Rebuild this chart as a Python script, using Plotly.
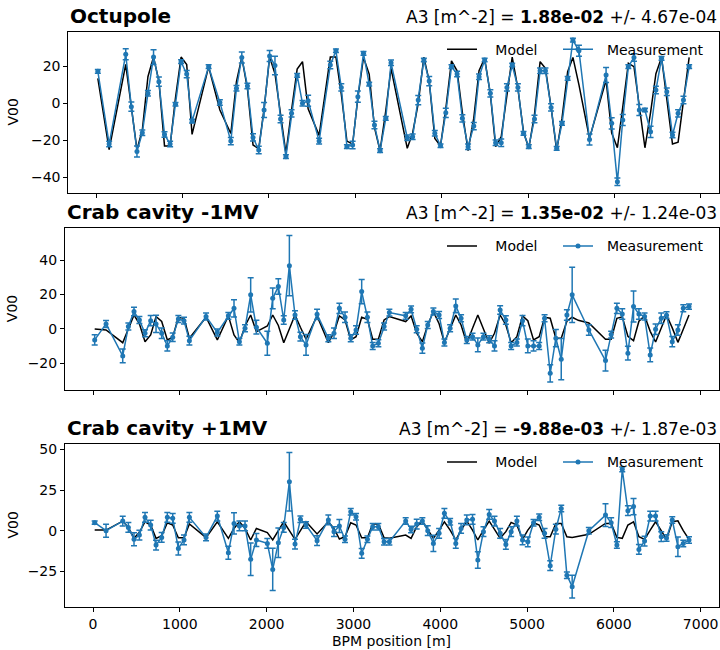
import plotly.graph_objects as go

bpm_s = [19, 150, 342, 407, 472, 534, 599, 664, 726, 791,
         856, 918, 983, 1048, 1110, 1302, 1432, 1559, 1624, 1686,
         1751, 1816, 1882, 1944, 2008, 2070, 2135, 2197, 2262, 2327,
         2389, 2454, 2581, 2711, 2776, 2838, 2903, 2969, 3030, 3095,
         3161, 3222, 3287, 3353, 3414, 3602, 3664, 3729, 3794, 3856,
         3921, 3987, 4048, 4114, 4179, 4240, 4306, 4372, 4433, 4498,
         4564, 4625, 4690, 4756, 4817, 4883, 4948, 5009, 5075, 5140,
         5202, 5267, 5332, 5394, 5459, 5520, 5590, 5712, 5904, 5969,
         6035, 6097, 6162, 6227, 6289, 6354, 6419, 6481, 6546, 6607,
         6673, 6738, 6800, 6866]

oct_meas = [17.3, -22, 26.5, -1.8, -26, -15.9, 5.4, 25, 11.7, -16.8,
            -22, -0.5, 22.5, 15.8, -9.6, 19.8, 0.5, -20.4, 8.1, 24.8,
            9.4, -18.4, -25.2, -3.6, 25.6, 20.5, -8.5, -28.8, -5.4, 15.1,
            0, 1.4, -20.4, 20.7, 28.4, 8.6, -23.4, -22.5, 3.6, 27,
            10.4, -11.7, -25.6, -8.1, 21.9, -18.6, -18, 1.8, 23.4, 12,
            -16.2, -22.9, -5.1, 19.8, 15.8, -8.1, -23.4, -12.3, 14.4, 23.4,
            5.4, -21.3, -21.3, 8.6, 20.7, 8.6, -16.2, -23.4, -8.5, 17.6,
            17.6, -2.2, -24.3, -10.8, 13.5, 34.2, 28.4, -19.5, 15.3, -10.8,
            -42.4, -9, 19.8, 24.8, -3.6, -3.6, -15.4, 7.2, 24.3, 6.3,
            -17.1, -5.4, 1.8, 19.8]
oct_model = [13.5, -25, 21, -2, -25, -14.4, 14.4, 25, 12, -23,
             -23, 3, 25, 21, -16.8, 19.8, -3.6, -16.3, 11.7, 24.8,
             8, -22.5, -24.5, -3, 25, 16, -6, -27, -3.6, 18.5,
             22.5, -3, -17.3, 25, 25, 5, -20.4, -22, 3, 24.8,
             15.8, -13, -25.6, -4, 18.9, -24.3, -16, 0, 25, 12,
             -19, -22.9, -3, 23, 17.6, -5, -25.6, -8, 17.6, 24.3,
             5, -23.4, -18, 5, 25, 8, -15.4, -24.3, -6, 22.5,
             18.9, -2, -25.6, -8, 17.1, 24.8, 10, -18.9, 12.6, -16,
             -24, -2, 21.6, 19.8, -3, -24, -5, 16, 24.8, 1.6,
             -22, -21, 2, 24.8]
oct_err = [1, 1.5, 3, 2.5, 3, 1.5, 1.5, 4, 2.5, 1.5,
           1.5, 1, 1, 2, 1, 1, 1.5, 2, 1.5, 3,
           1.5, 2, 2, 4, 3, 5, 2, 1, 2, 1,
           1.5, 3, 1.5, 2, 1, 2, 1, 2, 3, 1,
           1, 2, 1, 1, 1.5, 1.5, 1.5, 2.5, 1, 2.5,
           1.5, 1, 2.5, 1, 1.5, 2, 1.5, 2, 1.5, 1,
           2, 1.5, 2, 2, 1, 2, 1, 1, 2, 1.5,
           1.5, 2, 1, 1, 1, 1, 3, 3, 4, 3,
           2, 3, 1, 2, 3, 1, 3, 2, 1, 2,
           1.5, 2, 2, 1]

crm_meas = [-6.4, 2.9, -15.7, 1.4, 10.1, 5.2, -2.5, 4.8, 2.9, -2.5,
            -9.9, -4.8, 5.8, 4.8, -6.8, 7.2, -2.1, 7.6, 12, -7.4,
            0.4, 19.8, 1, None, -8.3, 17.8, 24.6, 5.2, 36.8, 8.1,
            -4.5, -9.3, 8.5, -5.4, -2.5, 12, 6.8, -5.4, -0.6, 21.7,
            6.8, -9.9, -8.3, 1.4, 9.5, 7.6, 11.4, -0.2, -11.2, 2.3,
            10.1, 8.1, -7.9, 0.4, 13.4, 6.2, -6.4, -4.5, -9.3, -4.5,
            -6, -9.9, 11, 5.2, -9.9, -7.9, 4.8, -9.9, -9.9, -9.9,
            6.2, -25.8, -5.4, -17.6, 8.1, 19.8, None, -0.6, -18.4, -3.3,
            12, 8.7, -14.1, 13, 8.7, 7.2, -15.1, -0.2, 6.2, 8,
            -7.4, -0.6, 12, 13]
crm_model = [0, -0.6, -8, 0, 8.1, 3, -7.4, -3.5, 7.2, 4.3,
             -6.4, -4.8, 6.8, 6.2, -5.4, 6.8, -6.4, 7.6, -3.5, -8,
             1.7, 8.1, -1.6, 0, 1.7, 8.1, 2, -8, 0.5, 8.1,
             1, -6, 7.6, -8, -2, 7.6, 5.2, -6.4, -4.5, 6.8,
             5.6, -6, -6, 5.2, 7.2, 4.3, 7.6, -2.5, -7.4, 2.3,
             10.1, 3, -7.9, 0.4, 8.1, 2.3, -8.3, 0.4, 8.1, 0,
             -8.3, -2.5, 8.1, 2.3, -8, -4.5, 7.6, 4.8, -6.4, -4.5,
             6.8, 6.2, -5.4, -5.4, 4.5, 6.8, 5, 3.5, -6, -6,
             6.2, 7, -4.3, -6.8, 4.5, 7.6, -1.4, -7.6, 0.6, 8.1,
             0.6, -7.8, -0.2, 8.1]
crm_err = [3, 2, 4, 2, 2.5, 2, 2, 3, 5, 3,
           3, 2.5, 2, 2, 2.5, 2, 2, 2, 5, 2,
           2, 10, 4, None, 7, 6, 4.5, 2.5, 17.5, 2.5,
           2.5, 6, 3, 2, 3, 3, 3, 2, 2.5, 7,
           3, 2, 2, 2, 2, 2, 2, 2, 3, 2,
           2, 2, 2, 2, 4, 2, 2, 2, 4, 2,
           2, 3, 2.5, 2.5, 2, 2, 3, 4, 3, 2,
           2, 5, 5, 12, 3, 16, None, 3, 6, 2,
           3, 3, 4, 9, 3, 2, 4, 3, 3, 2,
           3, 3, 2, 1.5]

crp_meas = [4.9, 0, 5.9, 2, -5.3, -2.7, 8.2, 3.5, -8.8, -4.1,
            8.2, 7.6, -10.9, -5.7, 8.2, -4.1, 9, -13.5, 4.5, 2.9,
            2.9, -17.6, -5.7, None, -7.8, -23.8, -7.4, 2, 30.1, -8.2,
            7, 3.5, -6.1, 6.6, -0.6, 2.9, -5.3, 11.7, 8.6, -13.9,
            -5.3, 2.5, 2.5, -6.8, -6.8, 5.9, 0.8, 4.1, 5.9, 0,
            -7.8, -1.6, 10.7, 5.5, -7.8, 1.4, 6.6, 7, -18, -0.6,
            10, 5.9, -1.6, -8.4, -0.6, 5.9, -5.7, -6.8, 4.9, 8.2,
            -1.6, -21.5, 0.9, 13.7, -27.3, -34.4, None, 0, 9.6, 4.9,
            -8.8, 37.7, 12.3, 14.8, -11.5, -6.4, 9, 9, -3.7, -4.5,
            6.6, -9.8, -7.8, -5.7]
crp_model = [0.4, 0.4, 5.9, 2, -4.7, -1, 5.5, 3.5, -4.7, -3,
             4.9, 3.5, -4.3, -4.3, 4.1, -4.3, 5.5, -4.7, 1.4, 5.5,
             1.4, -5.7, 1.4, 0, -1.2, -5.7, 0, 5.5, 0, -5.3,
             0, 5.5, -2, 5.5, 1.4, -5.1, -3.7, 4.9, 3.5, -4.3,
             -4.3, 4.1, 4.1, -4.3, -4.7, -2.7, -4.7, 2.5, 5.9, 0.4,
             -4.7, 0.4, 5.5, 0.4, -5.7, 0.4, 5.9, 0.4, -5.7, 0.4,
             5.9, 0.8, -4.7, -0.6, 5.1, 3.5, -5.3, 0.4, 4.9, 3.5,
             -3.7, -3.7, 4.5, 4.5, -3.7, -4.1, -3.5, -2.2, 4.5, 4.5,
             -4.1, -4.7, 3.5, 5.5, -3.7, -5.3, 0.4, 5.5, 0, -5.3,
             5.5, 6.1, 0, -5.3]
crp_err = [1, 4, 3, 3, 4, 3, 3, 3, 3, 3,
           3, 3, 4, 3, 3, 2, 3, 4, 6.5, 3,
           3, 10, 4, None, 3, 13, 9, 3, 18, 3,
           2, 2, 3, 3, 3, 4, 2, 2, 2, 3,
           2, 2, 2, 2, 2, 2, 2, 3, 2, 3,
           5, 3, 3, 2, 3, 3, 3, 3, 5, 3,
           3, 3, 3, 3, 3, 3, 3, 3, 2, 2,
           3, 3, 3, 2, 2, 7, None, 2, 7, 3,
           2, 1.5, 3, 5, 3, 3, 3, 3, 3, 2,
           2, 6, 2, 2]

panel_names = ["Octupole", "Crab cavity -1MV", "Crab cavity +1MV"]
a3_values = ["1.88e-02", "1.35e-02", "-9.88e-03"]
a3_errors = ["4.67e-04", "1.24e-03", "1.87e-03"]
y_ticks = [[-40, -20, 0, 20], [-20, 0, 20, 40], [-25, 0, 25, 50]]
y_ranges = [[-48.6, 38.7], [-35.5, 58.5], [-46.7, 53.1]]
x_ticks = [0, 1000, 2000, 3000, 4000, 5000, 6000, 7000]

panels = [(oct_meas, oct_err, oct_model), (crm_meas, crm_err, crm_model), (crp_meas, crp_err, crp_model)]
for m, e, mo in panels:
    assert len(m) == len(e) == len(mo) == len(bpm_s), (len(m), len(e), len(mo), len(bpm_s))

W, H = 720, 650
FONT = "DejaVu Sans"
FS = 14
BLUE = "#1f77b4"
NB = "\u00a0"
# pixel boxes (left, right, top, bottom)
boxes = [(68.3, 719.3, 31.7, 193.3), (65, 719.3, 228.3, 390), (65, 719.3, 444.3, 606.7)]

fig = go.Figure()
layout = dict(width=W, height=H, margin=dict(l=0, r=0, t=0, b=0, autoexpand=False),
              paper_bgcolor="white", plot_bgcolor="white",
              font=dict(family=FONT, size=FS, color="black"),
              showlegend=True)
annotations = []
for i, ((meas, err, model), box) in enumerate(zip(panels, boxes)):
    k = "" if i == 0 else str(i + 1)
    xa, ya = "x" + k, "y" + k
    leg = "legend" + k
    fig.add_trace(go.Scatter(x=bpm_s, y=model, mode="lines", name=NB * 3 + "Model",
                             line=dict(color="black", width=1.5), legendwidth=71,
                             xaxis=xa, yaxis=ya, legend=leg, connectgaps=True))
    fig.add_trace(go.Scatter(x=bpm_s, y=meas, mode="lines+markers", name=NB * 2 + "Measurement",
                             line=dict(color=BLUE, width=1.5), legendwidth=108,
                             marker=dict(color=BLUE, size=5),
                             error_y=dict(type="data", array=err, visible=True,
                                          color=BLUE, thickness=1.5, width=3),
                             xaxis=xa, yaxis=ya, legend=leg, connectgaps=True))
    l, r, t, b = box
    xd = [l / W, r / W]
    yd = [1 - b / H, 1 - t / H]
    axis_common = dict(showline=True, mirror=True, linecolor="black", linewidth=1,
                       ticks="outside", ticklen=4, tickcolor="black", tickwidth=1,
                       showgrid=False, zeroline=False,
                       tickfont=dict(family=FONT, size=FS, color="black"))
    layout["xaxis" + k] = dict(domain=xd, range=[-323, 7215], tickvals=x_ticks,
                               showticklabels=(i == 2), anchor=ya, **axis_common)
    layout["yaxis" + k] = dict(domain=yd, range=y_ranges[i], tickvals=y_ticks[i],
                               anchor=xa, **axis_common)
    layout[leg] = dict(orientation="h", x=442 / W, xanchor="left",
                       y=(1 - (t + 2) / H), yanchor="top",
                       bgcolor="rgba(0,0,0,0)", font=dict(family=FONT, size=FS),
                       itemwidth=30, tracegroupgap=0)
    annotations.append(dict(xref="paper", yref="paper", x=l / W, y=yd[1],
                            xanchor="left", yanchor="bottom", yshift=2,
                            text="<b>" + panel_names[i] + "</b>", showarrow=False,
                            font=dict(family=FONT, size=20, color="black")))
    annotations.append(dict(xref="paper", yref="paper", x=r / W, y=yd[1],
                            xanchor="right", yanchor="bottom", yshift=3,
                            text="A3 [m^-2] = <b>" + a3_values[i] + "</b> +/- " + a3_errors[i],
                            showarrow=False,
                            font=dict(family=FONT, size=17, color="black")))
    annotations.append(dict(xref="paper", yref="paper", x=12 / W, y=sum(yd) / 2,
                            xanchor="center", yanchor="middle", textangle=-90,
                            text="V00", showarrow=False,
                            font=dict(family=FONT, size=FS, color="black")))

annotations.append(dict(xref="paper", yref="paper", x=392 / W, y=1 - 641 / H,
                        xanchor="center", yanchor="middle", text="BPM position [m]",
                        showarrow=False, font=dict(family=FONT, size=FS, color="black")))
layout["annotations"] = annotations
fig.update_layout(**layout)
fig.write_html("out.html", config={"displayModeBar": False},
               post_script="document.body.style.margin='0px';document.body.style.overflow='hidden';")
